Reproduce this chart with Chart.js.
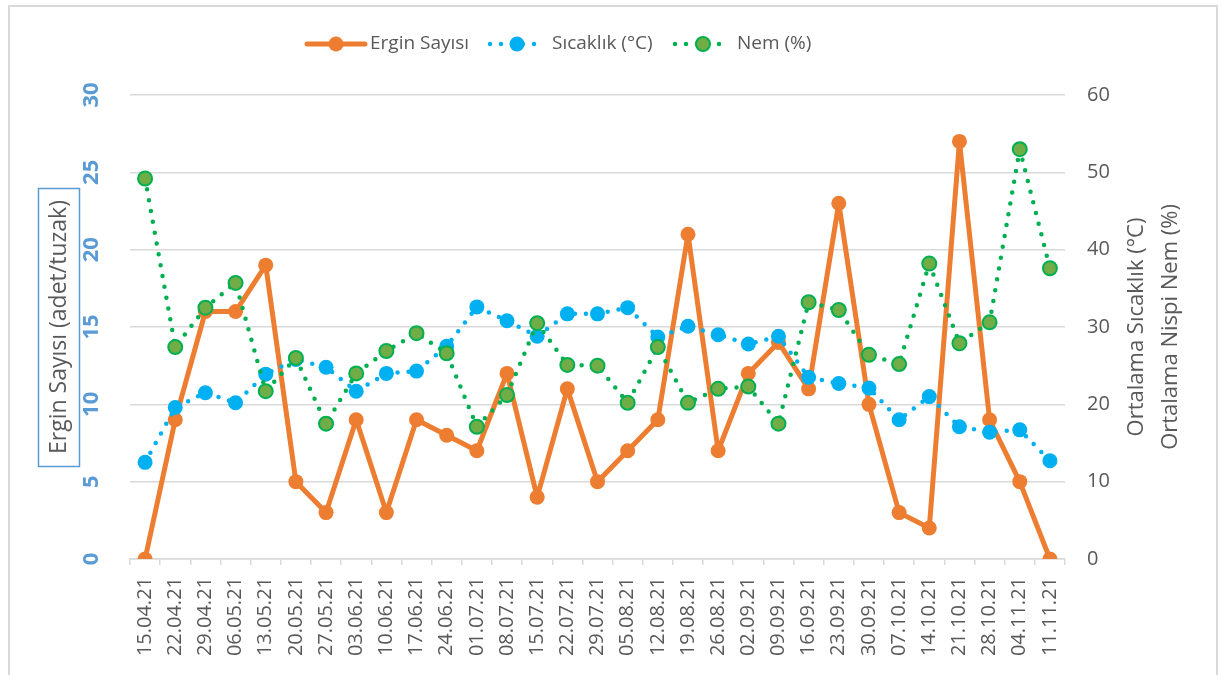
<!DOCTYPE html>
<html>
<head>
<meta charset="utf-8">
<script src="https://cdn.jsdelivr.net/npm/chart.js@4"></script>
<style>
    body { margin: 0; background: #fff; overflow: hidden; }
    #wrap { position: relative; width: 1219px; height: 675px; }
    #frame {
        position: absolute; left: 8px; top: 5px; width: 1206px; height: 700px;
        border: 2px solid #d9d9d9; pointer-events: none;
    }
    canvas { position: absolute; left: 0; top: 0; }
</style>
</head>
<body>
<div id="wrap">
    <canvas id="chart" width="1219" height="675"></canvas>
    <div id="frame"></div>
</div>
<script>
const dates = ['15.04.21', '22.04.21', '29.04.21', '06.05.21', '13.05.21', '20.05.21', '27.05.21',
    '03.06.21', '10.06.21', '17.06.21', '24.06.21', '01.07.21', '08.07.21', '15.07.21', '22.07.21',
    '29.07.21', '05.08.21', '12.08.21', '19.08.21', '26.08.21', '02.09.21', '09.09.21', '16.09.21',
    '23.09.21', '30.09.21', '07.10.21', '14.10.21', '21.10.21', '28.10.21', '04.11.21', '11.11.21'];

// adet/tuzak
const ergin = [0, 9, 16, 16, 19, 5, 3, 9, 3, 9, 8, 7, 12, 4, 11, 5, 7, 9, 21, 7, 12, 14, 11, 23, 10, 3, 2, 27, 9, 5, 0];

// °C
const sicaklik = [12.5, 19.6, 21.5, 20.2, 23.9, 25.8, 24.8, 21.7, 24.0, 24.3, 27.5, 32.6, 30.8, 28.8, 31.7, 31.7,
    32.5, 28.7, 30.1, 29.0, 27.8, 28.8, 23.5, 22.7, 22.1, 18.0, 21.0, 17.1, 16.4, 16.7, 12.7];

// %
const nem = [49.2, 27.4, 32.5, 35.7, 21.7, 26.0, 17.5, 24.0, 26.9, 29.2, 26.6, 17.1, 21.2, 30.5, 25.1, 25.0,
    20.2, 27.4, 20.2, 22.0, 22.3, 17.5, 33.2, 32.2, 26.4, 25.2, 38.2, 27.9, 30.6, 53.0, 37.6];

const leftTicks = [0, 5, 10, 15, 20, 25, 30];
const rightTicks = [0, 10, 20, 30, 40, 50, 60];

const FONT = "'Open Sans', sans-serif";
const GREY = '#595959';
const GRID = '#d9d9d9';

// legend entries: symbol start/end, marker x, text x
const legendItems = [
    { label: 'Ergin Sayısı', ds: 0, x0: 307, x1: 365, mx: 336, tx: 370 },
    { label: 'Sıcaklık (°C)', ds: 1, x0: 490, x1: 544, mx: 517, tx: 552 },
    { label: 'Nem (%)', ds: 2, x0: 675, x1: 728, mx: 703, tx: 737 }
];

function drawMarker(ctx, ds, x, y) {
    ctx.save();
    ctx.setLineDash([]);
    ctx.beginPath();
    ctx.arc(x, y, ds.pointRadius, 0, Math.PI * 2);
    ctx.fillStyle = ds.pointBackgroundColor;
    ctx.fill();
    if (ds.pointBorderWidth) {
        ctx.lineWidth = ds.pointBorderWidth;
        ctx.strokeStyle = ds.pointBorderColor;
        ctx.stroke();
    }
    ctx.restore();
}

const extrasPlugin = {
    id: 'extras',
    afterDraw(chart) {
        const ctx = chart.ctx;
        const datasets = chart.data.datasets;

        // legend across the top
        const ly = 44;
        ctx.save();
        legendItems.forEach(item => {
            const ds = datasets[item.ds];
            ctx.beginPath();
            ctx.lineWidth = ds.borderWidth;
            ctx.strokeStyle = ds.borderColor;
            ctx.lineCap = 'round';
            ctx.setLineDash(ds.borderDash || []);
            ctx.moveTo(item.x0, ly);
            ctx.lineTo(item.x1, ly);
            ctx.stroke();
            drawMarker(ctx, ds, item.mx, ly);
            ctx.setLineDash([]);
            ctx.fillStyle = GREY;
            ctx.font = '19px ' + FONT;
            ctx.textAlign = 'left';
            ctx.textBaseline = 'middle';
            ctx.fillText(item.label, item.tx, ly);
        });
        ctx.restore();

        // boxed title on the left axis
        ctx.save();
        ctx.strokeStyle = '#5B9BD5';
        ctx.lineWidth = 1.5;
        ctx.strokeRect(38.5, 188.5, 41, 278);
        ctx.translate(59, 327);
        ctx.rotate(-Math.PI / 2);
        ctx.fillStyle = GREY;
        ctx.font = '23px ' + FONT;
        ctx.textAlign = 'center';
        ctx.textBaseline = 'middle';
        ctx.fillText('Ergin Sayısı (adet/tuzak)', 0, 0);
        ctx.restore();

        // two-line title on the right axis, reading upwards
        ctx.save();
        ctx.translate(1154, 327);
        ctx.rotate(-Math.PI / 2);
        ctx.fillStyle = GREY;
        ctx.font = '22px ' + FONT;
        ctx.textAlign = 'center';
        ctx.textBaseline = 'middle';
        ctx.fillText('Ortalama Sıcaklık (°C)', 0, -17);
        ctx.fillText('Ortalama Nispi Nem (%)', 0, 17);
        ctx.restore();
    }
};

const config = {
    type: 'line',
    data: {
        labels: dates,
        datasets: [
            {
                label: 'Ergin Sayısı',
                data: ergin,
                yAxisID: 'y',
                order: 2,
                borderColor: '#ED7D31',
                borderWidth: 5,
                borderJoinStyle: 'round',
                pointRadius: 7.5,
                pointBackgroundColor: '#ED7D31',
                pointBorderWidth: 0,
                pointBorderColor: '#ED7D31'
            },
            {
                label: 'Sıcaklık (°C)',
                data: sicaklik,
                yAxisID: 'y1',
                order: 1,
                borderColor: '#00B0F0',
                borderWidth: 4.5,
                borderDash: [0, 11],
                borderCapStyle: 'round',
                pointRadius: 7.5,
                pointBackgroundColor: '#00B0F0',
                pointBorderWidth: 0,
                pointBorderColor: '#00B0F0'
            },
            {
                label: 'Nem (%)',
                data: nem,
                yAxisID: 'y1',
                order: 0,
                borderColor: '#00B050',
                borderWidth: 4.5,
                borderDash: [0, 11],
                borderCapStyle: 'round',
                pointRadius: 7,
                pointBackgroundColor: '#70AD47',
                pointBorderWidth: 2,
                pointBorderColor: '#00B050'
            }
        ]
    },
    options: {
        responsive: false,
        animation: false,
        events: [],
        layout: { padding: { top: 95, left: 0, right: 0, bottom: 0 } },
        plugins: {
            legend: { display: false },
            tooltip: { enabled: false }
        },
        scales: {
            x: {
                offset: true,
                afterFit: s => { s.height = 116; },
                grid: {
                    offset: true,
                    drawOnChartArea: false,
                    tickLength: 6,
                    color: GRID,
                    lineWidth: 1.5
                },
                border: { color: GRID, width: 1.5 },
                ticks: {
                    autoSkip: false,
                    minRotation: 90,
                    maxRotation: 90,
                    padding: 12,
                    color: GREY,
                    font: { family: FONT, size: 20 }
                }
            },
            y: {
                position: 'left',
                min: 0,
                max: 30,
                afterFit: s => { s.width = 130; },
                afterBuildTicks: s => { s.ticks = leftTicks.map(v => ({ value: v })); },
                grid: { color: GRID, lineWidth: 1.5, drawTicks: false },
                border: { display: false },
                ticks: {
                    minRotation: 90,
                    maxRotation: 90,
                    crossAlign: 'center',
                    padding: 26,
                    color: '#5B9BD5',
                    font: { family: FONT, size: 22, weight: 'bold' }
                }
            },
            y1: {
                position: 'right',
                min: 0,
                max: 60,
                afterFit: s => { s.width = 154; },
                afterBuildTicks: s => { s.ticks = rightTicks.map(v => ({ value: v })); },
                grid: { drawOnChartArea: false, drawTicks: false },
                border: { display: false },
                ticks: {
                    padding: 22,
                    color: GREY,
                    font: { family: FONT, size: 20 }
                }
            }
        }
    },
    plugins: [extrasPlugin]
};

const chart = new Chart(document.getElementById('chart').getContext('2d'), config);
</script>
</body>
</html>
